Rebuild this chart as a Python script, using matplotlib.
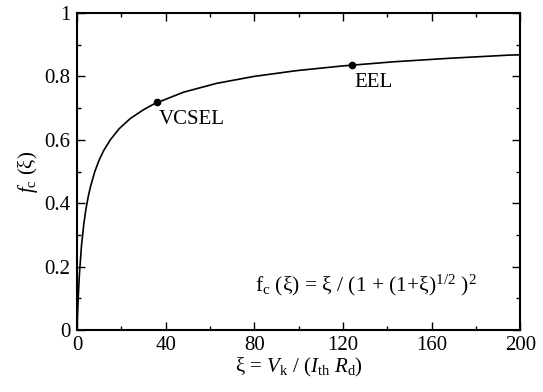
import matplotlib
matplotlib.use('Agg')
import matplotlib.pyplot as plt

plt.rcParams['font.family'] = 'Liberation Serif'
plt.rcParams['mathtext.fontset'] = 'custom'
plt.rcParams['mathtext.rm'] = 'Liberation Serif'
plt.rcParams['mathtext.it'] = 'Liberation Serif:italic'

# values
xi = [0, 0.2, 0.5, 1, 2, 3, 4, 5, 6, 8, 10, 12, 15, 19, 24, 30, 35, 48, 63, 80, 99,
      120, 143, 168, 195, 200]
fc = [0, 0.046, 0.101, 0.172, 0.268, 0.333, 0.382, 0.420, 0.451, 0.500, 0.537, 0.566,
      0.600, 0.635, 0.667, 0.695, 0.714, 0.750, 0.778, 0.800, 0.818, 0.833, 0.846,
      0.857, 0.867, 0.868]

# marked points
pt_x = [36, 124]
pt_y = [0.718, 0.836]
pt_lab = ['VCSEL', 'EEL']

xticks = [0, 40, 80, 120, 160, 200]
yticks = [0, 0.2, 0.4, 0.6, 0.8, 1]
ylabs = ['0', '0.2', '0.4', '0.6', '0.8', '1']

fig = plt.figure(figsize=(5.43, 3.92), dpi=100)
ax = fig.add_axes([0.142, 0.158, 0.816, 0.809])

ax.plot(xi, fc, 'k-', lw=1.2)
ax.plot(pt_x, pt_y, 'ko', ms=4.5)
for x, y, s in zip(pt_x, pt_y, pt_lab):
    ax.text(x + 1, y - 0.025, s, fontsize=15, ha='left', va='top')

ax.text(80.5, 0.14, r'f$_{\rm c}$ (ξ) = ξ / (1 + (1+ξ)$^{1/2}$ )$^2$',
        fontsize=15.5, ha='left', va='center')

ax.set_xlim(0, 200)
ax.set_ylim(0, 1)
ax.set_xticks(xticks)
ax.set_xticks(range(20, 200, 40), minor=True)
ax.set_yticks(yticks)
ax.set_yticks([0.1, 0.3, 0.5, 0.7, 0.9], minor=True)
ax.set_xticklabels([str(t) for t in xticks], fontsize=15)
ax.set_yticklabels(ylabs, fontsize=15)
ax.tick_params(which='both', direction='in', top=True, right=True, width=1)
ax.tick_params(which='major', length=6)
ax.tick_params(which='minor', length=3)
ax.tick_params(axis='x', which='major', pad=4)
ax.tick_params(axis='y', which='major', pad=5)
for sp in ax.spines.values():
    sp.set_linewidth(1.5)

ax.set_xlabel(r'ξ = $V_{\rm k}$ / ($I_{\rm th}$ $R_{\rm d}$)', fontsize=15, labelpad=1)
ax.set_ylabel(r'$f_{\rm c}$ (ξ)', fontsize=15, labelpad=3)

fig.savefig('out.png', dpi=100)
